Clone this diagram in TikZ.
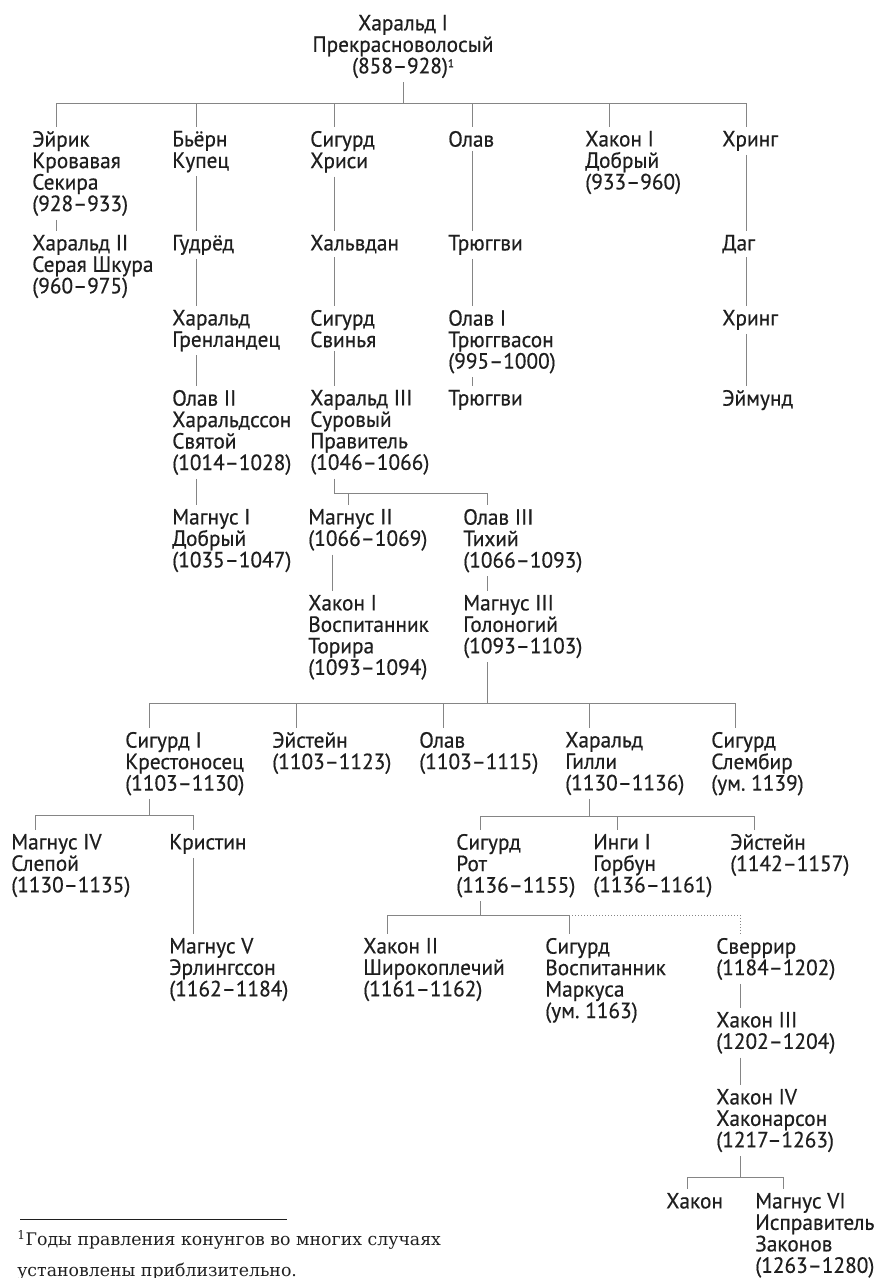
\documentclass[tikz,border=0pt]{standalone}
\usepackage{fontspec}
\setmainfont{PT Sans}[FakeStretch=0.97,FakeBold=0.5]
\newfontfamily\notefont{DejaVu Serif}
\usepackage{tikz}
\usetikzlibrary{calc}
\definecolor{inkmain}{HTML}{1F1F1F}
\definecolor{linegray}{HTML}{858585}
\newcommand\kingfont{\fontsize{16.5pt}{16.1pt}\selectfont\lineskiplimit=-\maxdimen}
\newcommand\notemark{\raisebox{4.5pt}{\fontsize{8.5pt}{8.5pt}\selectfont 1}}
\tikzset{
  king/.style={anchor=north west, align=left, inner sep=0pt, outer ysep=3pt,
    font=\kingfont, text=inkmain},
  link/.style={draw=linegray, line width=0.75pt},
  maybe/.style={link, dash pattern=on 0.75pt off 1.5pt},
}

\begin{document}
\begin{tikzpicture}[x=0.75pt,y=-0.75pt]
  \useasboundingbox (0,0) rectangle (876,1278);

  % root
  \node[king, anchor=north, align=center] (root) at (403,11)
    {Харальд I\\Прекрасноволосый\\(858–928)\notemark};

  % sons of Harald I
  \node[king] (eirik)   at (32,127)  {Эйрик\\Кровавая\\Секира\\(928–933)};
  \node[king] (bjorn)   at (172,127) {Бьёрн\\Купец};
  \node[king] (sigurdh) at (310,127) {Сигурд\\Хриси};
  \node[king] (olav)    at (448,127) {Олав};
  \node[king] (hakon1)  at (585,127) {Хакон I\\Добрый\\(933–960)};
  \node[king] (hring)   at (722,127) {Хринг};

  \node[king] (harald2) at (32,231)  {Харальд II\\Серая Шкура\\(960–975)};
  \node[king] (gudrod)  at (172,231) {Гудрёд};
  \node[king] (halfdan) at (310,231) {Хальвдан};
  \node[king] (tryggvi) at (448,231) {Трюггви};
  \node[king] (dag)     at (722,231) {Даг};

  \node[king] (haraldg) at (172,306) {Харальд\\Гренландец};
  \node[king] (sigurds) at (310,306) {Сигурд\\Свинья};
  \node[king] (olav1)   at (448,306) {Олав I\\Трюггвасон\\(995–1000)};
  \node[king] (hring2)  at (722,306) {Хринг};

  \node[king] (olav2)    at (172,386) {Олав II\\Харальдссон\\Святой\\(1014–1028)};
  \node[king] (harald3)  at (310,386) {Харальд III\\Суровый\\Правитель\\(1046–1066)};
  \node[king] (tryggvi2) at (448,386) {Трюггви};
  \node[king] (eymund)   at (722,386) {Эймунд};

  \node[king] (magnus1) at (172,505) {Магнус I\\Добрый\\(1035–1047)};
  \node[king] (magnus2) at (308,505) {Магнус II\\(1066–1069)};
  \node[king] (olav3)   at (463,505) {Олав III\\Тихий\\(1066–1093)};

  \node[king] (hakonf)  at (308,591) {Хакон I\\Воспитанник\\Торира\\(1093–1094)};
  \node[king] (magnus3) at (463,591) {Магнус III\\Голоногий\\(1093–1103)};

  % sons of Magnus III
  \node[king] (sigurd1)     at (125,728) {Сигурд I\\Крестоносец\\(1103–1130)};
  \node[king] (eystein)     at (272,728) {Эйстейн\\(1103–1123)};
  \node[king] (olavm)       at (419,728) {Олав\\(1103–1115)};
  \node[king] (haraldgilli) at (565,728) {Харальд\\Гилли\\(1130–1136)};
  \node[king] (sigurdsl)    at (711,728) {Сигурд\\Слембир\\(ум.~1139)};

  \node[king] (magnus4)  at (11,830)  {Магнус IV\\Слепой\\(1130–1135)};
  \node[king] (kristin)  at (169,830) {Кристин};
  \node[king] (sigurdr)  at (456,830) {Сигурд\\Рот\\(1136–1155)};
  \node[king] (ingi)     at (593,830) {Инги I\\Горбун\\(1136–1161)};
  \node[king] (eystein2) at (730,830) {Эйстейн\\(1142–1157)};

  \node[king] (magnus5) at (169,934) {Магнус V\\Эрлингссон\\(1162–1184)};
  \node[king] (hakon2)  at (363,934) {Хакон II\\Широкоплечий\\(1161–1162)};
  \node[king] (sigurdm) at (545,934) {Сигурд\\Воспитанник\\Маркуса\\(ум.~1163)};
  \node[king] (sverrir) at (716,934) {Сверрир\\(1184–1202)};

  \node[king] (hakon3)  at (716,1008) {Хакон III\\(1202–1204)};
  \node[king] (hakon4)  at (716,1085) {Хакон IV\\Хаконарсон\\(1217–1263)};
  \node[king] (hakon)   at (666,1189) {Хакон};
  \node[king] (magnus6) at (755,1189) {Магнус VI\\Исправитель\\Законов\\(1263–1280)};

  % forks
  \draw[link] (root.south) -- (root.south |- 0,103) coordinate (f0);
  \foreach \n in {eirik,bjorn,sigurdh,olav,hakon1,hring}
    \draw[link] (f0) -| ([xshift=18pt]\n.north west);

  \draw[link] ([xshift=18pt]harald3.south west) coordinate (h3) -- (h3 |- 0,493) coordinate (f1)
    -| ([xshift=30pt]magnus2.north west) (f1) -| ([xshift=18pt]olav3.north west);

  \draw[link] ([xshift=18pt]magnus3.south west) coordinate (m3) -- (m3 |- 0,703) coordinate (f2);
  \foreach \n in {sigurd1,eystein,olavm,haraldgilli,sigurdsl}
    \draw[link] (f2) -| ([xshift=18pt]\n.north west);

  \draw[link] ([xshift=18pt]sigurd1.south west) coordinate (s1) -- (s1 |- 0,815) coordinate (f3)
    -| ([xshift=18pt]magnus4.north west) (f3) -| ([xshift=18pt]kristin.north west);

  \draw[link] ([xshift=18pt]haraldgilli.south west) coordinate (hg) -- (hg |- 0,816) coordinate (f4);
  \foreach \n in {sigurdr,ingi,eystein2}
    \draw[link] (f4) -| ([xshift=18pt]\n.north west);

  \draw[link] ([xshift=18pt]sigurdr.south west) coordinate (sr) -- (sr |- 0,915) coordinate (f5)
    -| ([xshift=18pt]hakon2.north west) (f5) -| ([xshift=18pt]sigurdm.north west) coordinate (sm);
  \draw[maybe] (sm |- f5) -| ([xshift=18pt]sverrir.north west);

  \draw[link] ([xshift=18pt]hakon4.south west) coordinate (h4) -- (h4 |- 0,1177) coordinate (f6)
    -| ([xshift=16pt]hakon.north west) (f6) -| ([xshift=21pt]magnus6.north west);

  % straight lines of descent
  \foreach \a/\b in {eirik/harald2,bjorn/gudrod,gudrod/haraldg,haraldg/olav2,olav2/magnus1,
      sigurdh/halfdan,halfdan/sigurds,sigurds/harald3,olav/tryggvi,tryggvi/olav1,olav1/tryggvi2,
      hring/dag,dag/hring2,hring2/eymund,magnus2/hakonf,olav3/magnus3,kristin/magnus5,
      sverrir/hakon3,hakon3/hakon4}
    \draw[link] ([xshift=18pt]\a.south west) -- ([xshift=18pt]\b.north west);

  % footnote
  \draw[inkmain, line width=0.75pt] (20,1219) -- (287,1219);
  \node[anchor=base west, align=left, inner sep=0pt, text=inkmain,
    font=\notefont\fontsize{13pt}{23pt}\selectfont] (note) at (17,1276)
    {\textsuperscript{1}Годы правления конунгов во многих случаях\\установлены приблизительно.};
\end{tikzpicture}
\end{document}
